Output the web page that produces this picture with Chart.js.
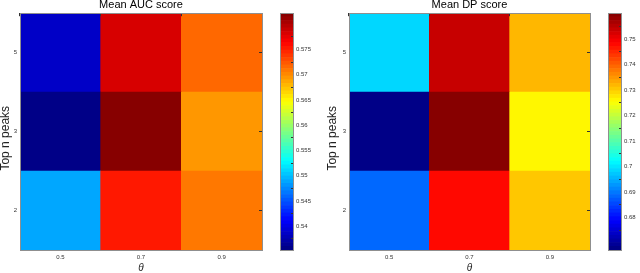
<!DOCTYPE html>
<html>
<head>
<meta charset="utf-8">
<script src="https://cdn.jsdelivr.net/npm/chart.js@4"></script>
<style>
  body { margin: 0; background: #fff; width: 640px; height: 273px; overflow: hidden; position: relative; }
  canvas { position: absolute; top: 0; }
</style>
</head>
<body>
<canvas id="aucMap" width="270" height="273" style="left:0"></canvas>
<canvas id="aucBar" width="50" height="273" style="left:270px"></canvas>
<canvas id="dpMap" width="278" height="273" style="left:320px"></canvas>
<canvas id="dpBar" width="42" height="273" style="left:598px"></canvas>
<script>
"use strict";

// heatmap data, rows listed bottom (2 peaks) to top (5 peaks)
const THETA = ["0.5", "0.7", "0.9"];
const PEAKS = ["2", "3", "5"];
const AUC_2 = [0.5502, 0.5729, 0.5695];
const AUC_3 = [0.5382, 0.5793, 0.5683];
const AUC_5 = [0.5413, 0.5756, 0.5697];
const DP_2 = [0.6919, 0.7430, 0.7282];
const DP_3 = [0.6730, 0.7544, 0.7251];
const DP_5 = [0.7000, 0.7493, 0.7290];
const AUC_TICKS = [0.54, 0.545, 0.55, 0.555, 0.56, 0.565, 0.57, 0.575];
const DP_TICKS = [0.68, 0.69, 0.7, 0.71, 0.72, 0.73, 0.74, 0.75];
const LEVELS = 64;

const FONT = "'Liberation Sans', Arial, sans-serif";
const FRAME = { color: "#8f8f8f", z: 1 };
const TICK_COLOR = "#333";
Chart.defaults.font.family = FONT;

// matlab style jet colormap, 64 discrete levels
function jet(v, lo, hi) {
  const i = Math.min(LEVELS - 1, Math.max(0, Math.floor((v - lo) / (hi - lo) * LEVELS)));
  const t = (i + 0.5) / LEVELS;
  const c = (x) => Math.round(255 * Math.min(1, Math.max(0, 1.5 - Math.abs(4 * t - x))));
  return "rgb(" + c(3) + "," + c(2) + "," + c(1) + ")";
}

const rowTicks = (s) => { s.ticks = PEAKS.map((_, i) => ({ value: i + 0.5 })); };

function heatmap(id, title, rows, axisW, titlePad) {
  const vals = rows.flat();
  const lo = Math.min(...vals), hi = Math.max(...vals);
  const inner = { drawOnChartArea: false, tickLength: -3, color: TICK_COLOR, z: 1 };
  new Chart(document.getElementById(id), {
    type: "bar",
    data: {
      labels: THETA,
      datasets: rows.map((row, i) => ({
        data: row.map(() => [i, i + 1]),
        backgroundColor: row.map((v) => jet(v, lo, hi)),
        grouped: false, barPercentage: 1, categoryPercentage: 1, borderWidth: 0,
      })),
    },
    options: {
      responsive: false, animation: false, events: [],
      layout: { padding: { right: 8 } },
      plugins: {
        legend: { display: false }, tooltip: { enabled: false },
        title: { display: true, text: title, fullSize: false, color: "#000",
                 font: { size: 11, weight: "normal" }, padding: { top: -2, bottom: 2 } },
      },
      scales: {
        x: {
          grid: { display: false, drawTicks: false }, border: FRAME,
          ticks: { font: { size: 6 }, color: TICK_COLOR, padding: 4 },
          title: { display: true, text: "θ", color: "#222",
                   font: { size: 10, style: "italic" }, padding: { top: 0, bottom: -1 } },
          afterFit: (s) => { s.height = 23; },
        },
        y: {
          type: "linear", min: 0, max: 3, afterBuildTicks: rowTicks,
          grid: { display: false, drawTicks: false }, border: FRAME,
          ticks: { font: { size: 6 }, color: TICK_COLOR, padding: 3, callback: (v, i) => PEAKS[i] },
          title: { display: true, text: "Top n peaks    ", color: "#222",
                   font: { size: 12 }, padding: { top: titlePad, bottom: 0 } },
          afterFit: (s) => { s.width = axisW; },
        },
        xTop: {
          type: "category", position: "top", offset: true,
          grid: inner, border: FRAME, ticks: { display: false },
          afterFit: (s) => { s.height = 0; },
        },
        yRight: {
          type: "linear", position: "right", min: 0, max: 3, afterBuildTicks: rowTicks,
          grid: inner, border: FRAME, ticks: { display: false },
          afterFit: (s) => { s.width = 0; },
        },
      },
    },
  });
  return [lo, hi];
}

function colorbar(id, range, tickVals) {
  const [lo, hi] = range;
  const el = document.getElementById(id);
  const bands = Array.from({ length: LEVELS }, (_, i) => LEVELS - 1 - i); // top band first
  new Chart(el, {
    type: "bar",
    data: {
      labels: bands,
      datasets: [{
        data: bands.map(() => [0, 1]),
        backgroundColor: bands.map((i) => jet(lo + (i + 0.5) / LEVELS * (hi - lo), lo, hi)),
        barPercentage: 1, categoryPercentage: 1, borderWidth: 0,
      }],
    },
    options: {
      indexAxis: "y", responsive: false, animation: false, events: [],
      layout: { padding: { left: 10, top: 13, bottom: 23, right: 0 } },
      plugins: { legend: { display: false }, tooltip: { enabled: false } },
      scales: {
        x: { min: 0, max: 1, grid: { display: false, drawTicks: false }, border: FRAME,
             ticks: { display: false }, afterFit: (s) => { s.height = 0; } },
        xTop: { type: "linear", position: "top", min: 0, max: 1,
                grid: { display: false, drawTicks: false }, border: FRAME,
                ticks: { display: false }, afterFit: (s) => { s.height = 0; } },
        y: { grid: { display: false, drawTicks: false }, border: FRAME,
             ticks: { display: false }, afterFit: (s) => { s.width = 0; } },
        v: {
          type: "linear", position: "right", min: lo, max: hi,
          afterBuildTicks: (s) => { s.ticks = tickVals.map((v) => ({ value: v })); },
          grid: { drawOnChartArea: false, tickLength: -2, color: TICK_COLOR, z: 1 },
          border: FRAME,
          ticks: { font: { size: 6 }, color: TICK_COLOR, padding: 5, callback: (v) => String(v) },
          afterFit: (s) => { s.width = el.width - 23; },
        },
      },
    },
  });
}

colorbar("aucBar", heatmap("aucMap", "Mean AUC score", [AUC_2, AUC_3, AUC_5], 20, -1.7), AUC_TICKS);
colorbar("dpBar", heatmap("dpMap", "Mean DP score", [DP_2, DP_3, DP_5], 29, 5.8), DP_TICKS);
</script>
</body>
</html>
